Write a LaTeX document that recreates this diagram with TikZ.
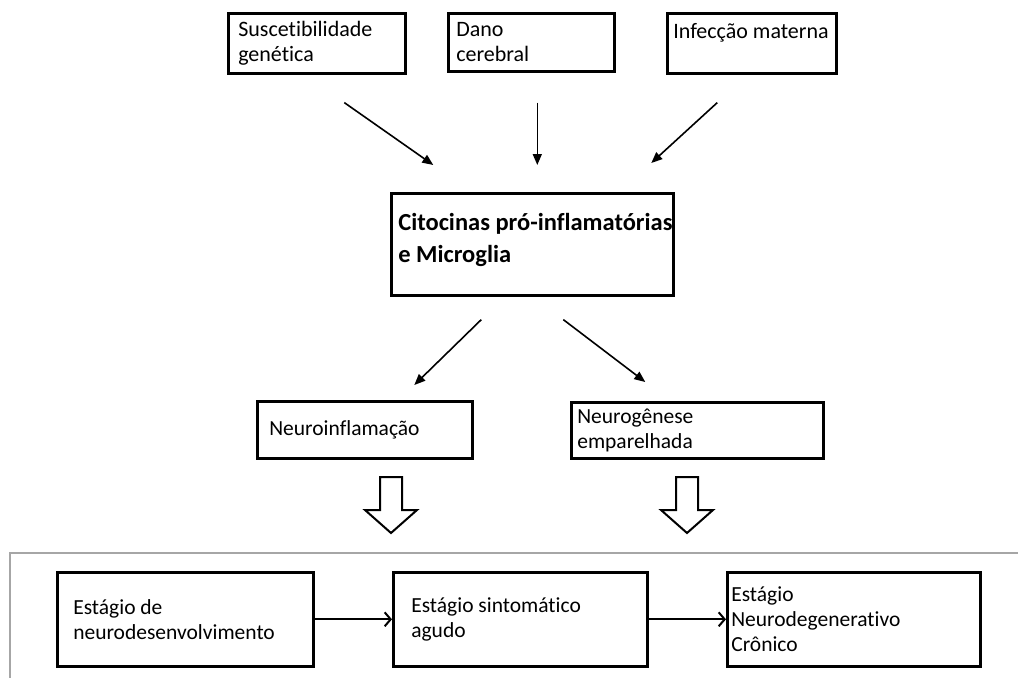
\documentclass[tikz,border=0pt]{standalone}
\usepackage{fontspec}
\setmainfont{Carlito}[Ligatures=NoCommon]
\usetikzlibrary{arrows.meta}

\tikzset{
	box/.style={draw, line width=2.6pt, anchor=north west, align=flush left,
		inner ysep=0pt, font=\fontsize{21.5}{25}\selectfont},
	arr/.style={line width=1.6pt, -{Triangle[length=11pt,width=9pt]}},
	barb/.style={line width=2pt, -{Straight Barb[length=6pt,width=14pt]}}
}

\newcommand{\hollowarrow}[2]{
	\pgfmathsetmacro{\HAxa}{#1-11}
	\pgfmathsetmacro{\HAxb}{#1+11}
	\pgfmathsetmacro{\HAwa}{#1-26}
	\pgfmathsetmacro{\HAwb}{#1+26}
	\pgfmathsetmacro{\HAyb}{#2+33}
	\pgfmathsetmacro{\HAyc}{#2+56}
	\draw[line width=2pt, line join=miter] (\HAxa,#2) -- (\HAxb,#2) -- (\HAxb,\HAyb) -- (\HAwb,\HAyb) -- (#1,\HAyc) -- (\HAwa,\HAyb) -- (\HAxa,\HAyb) -- cycle;
}

\begin{document}
\begin{tikzpicture}[x=1pt, y=-1pt]
\useasboundingbox (0,0) rectangle (1018,678);

% causes
\node[box, font=\fontsize{22}{25}\selectfont, text width=157pt, inner xsep=10pt, minimum height=60pt] (susc) at (227,12) {Suscetibilidade\\genética};
\node[box, font=\fontsize{22}{25}\selectfont, text width=150pt, inner xsep=8pt, minimum height=58pt] (dano) at (447,12) {Dano\\cerebral};
\node[box, font=\fontsize{22}{25}\selectfont, text width=157pt, inner xsep=6pt, minimum height=60pt] (infec) at (666,12) {Infecção materna\\\mbox{}};

\node[box, font=\fontsize{24.5}{32}\selectfont\bfseries, text width=268pt, inner xsep=7pt, minimum height=102pt] (cito) at (390,192) {\mbox{Citocinas pró-inflamatórias}\\e Microglia\\[-20pt]\mbox{}};

\draw[arr] ([shift={(27.5,28)}]susc.south) -- ([shift={(-99,-27)}]cito.north);
\draw[arr] ([shift={(6,30)}]dano.south) -- ([shift={(5,-27)}]cito.north);
\draw[arr] ([shift={(-34.5,28)}]infec.south) -- ([shift={(119,-29)}]cito.north);

% effects
\node[box, text width=191pt, inner xsep=12pt, minimum height=57pt] (neuinf) at (256,400) {Neuroinflamação};
\node[box, text width=240pt, inner xsep=6pt, minimum height=56pt] (neugen) at (570,401) {Neurogênese\\emparelhada};

\draw[arr] ([shift={(-51,23)}]cito.south) -- ([shift={(49.5,-15)}]neuinf.north);
\draw[arr] ([shift={(31,23)}]cito.south) -- ([shift={(-52,-19)}]neugen.north);

\hollowarrow{391}{477}
\hollowarrow{687}{477}

% stages
\draw[black!35, line width=2pt] (1018,553) -- (10,553) -- (10,678);

\node[box, text width=224pt, inner xsep=16pt, minimum height=94pt] (estA) at (56,571) {Estágio de\\neurodesenvolvimento};
\node[box, text width=218pt, inner xsep=18pt, minimum height=94pt] (estB) at (392,571) {Estágio sintomático\\agudo};
\node[box, text width=245pt, inner xsep=4pt, minimum height=94pt] (estC) at (726,571) {Estágio\\Neurodegenerativo\\Crônico};

\draw[barb] (estA) -- (estB);
\draw[barb] (estB) -- (estC);
\end{tikzpicture}
\end{document}
